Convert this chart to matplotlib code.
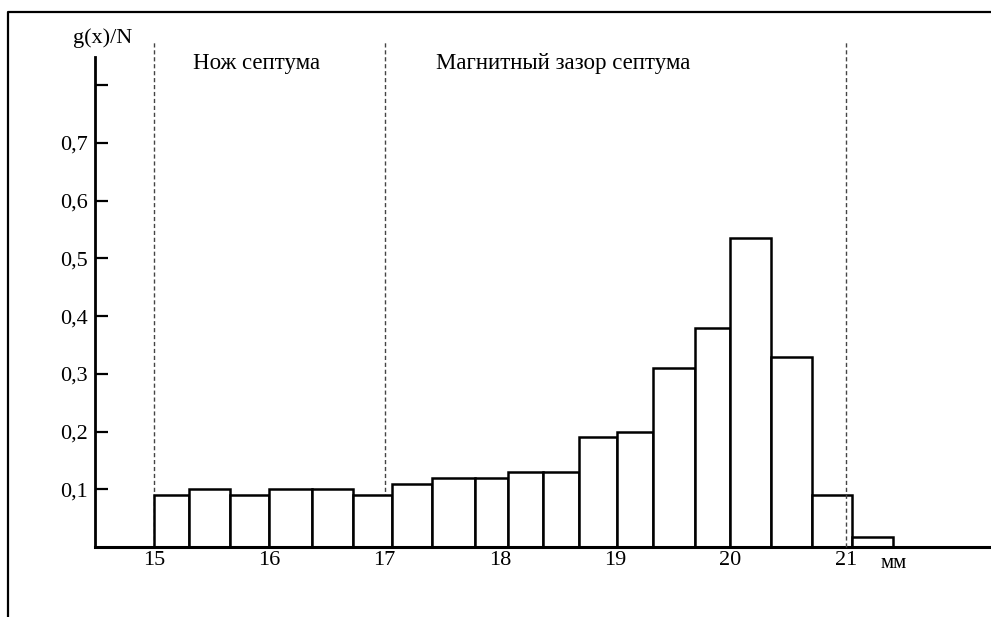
import matplotlib
matplotlib.use("Agg")
import matplotlib.pyplot as plt
from matplotlib.lines import Line2D

plt.rcParams['font.family'] = ['Liberation Serif', 'DejaVu Serif']

# bar edges (mm) and heights g(x)/N
bin_edges = [15.00, 15.30, 15.66, 16.00, 16.37, 16.73, 17.06, 17.41, 17.78, 18.07,
             18.37, 18.69, 19.02, 19.33, 19.69, 20.00, 20.35, 20.71, 21.05, 21.41]
heights = [0.09, 0.10, 0.09, 0.10, 0.10, 0.09, 0.11, 0.12, 0.12, 0.13,
           0.13, 0.19, 0.20, 0.31, 0.38, 0.535, 0.33, 0.09, 0.018]

y_ticks = [0.1, 0.2, 0.3, 0.4, 0.5, 0.6, 0.7, 0.8]
y_labels = ['0,1', '0,2', '0,3', '0,4', '0,5', '0,6', '0,7', '']
x_ticks = [15, 16, 17, 18, 19, 20, 21]
x_labels = ['15', '16', '17', '18', '19', '20', '21']

zone_lines = [15, 17, 21]
zone_names = ['Нож септума', 'Магнитный зазор септума']
zone_text_x = [15.34, 17.45]

W, H = 991, 617
fig = plt.figure(figsize=(W / 100, H / 100), dpi=100)
ax = fig.add_axes([95 / W, 1 - 547 / H, 896 / W, 490 / H])

lefts = bin_edges[:-1]
widths = [b - a for a, b in zip(bin_edges[:-1], bin_edges[1:])]
ax.bar(lefts, heights, width=widths, align='edge', color='white',
       edgecolor='black', linewidth=1.8, zorder=2)

ax.set_xlim(14.488, 22.26)
ax.set_ylim(0, 0.849)

# dashed zone boundaries
ax.vlines(zone_lines[:2], 0, 0.875, colors='#444444', linestyles=(0, (3, 2)),
          linewidth=1.0, clip_on=False, zorder=1)
ax.vlines(zone_lines[2:], 0, 0.875, colors='#444444', linestyles=(0, (3, 2)),
          linewidth=1.0, clip_on=False, zorder=3)

for name, xt in zip(zone_names, zone_text_x):
    ax.text(xt, 0.837, name, fontsize=16.5, ha='left', va='center', clip_on=False)

for s in ['top', 'right']:
    ax.spines[s].set_visible(False)
ax.spines['left'].set_linewidth(2.0)
ax.spines['bottom'].set_linewidth(2.2)

ax.set_yticks(y_ticks)
ax.set_yticklabels(y_labels, fontsize=16)
ax.tick_params(axis='y', direction='in', length=9.5, width=1.6, pad=5)
ax.set_xticks(x_ticks)
ax.set_xticklabels(x_labels, fontsize=16)
ax.tick_params(axis='x', length=0, pad=3)

ax.text(21.3, -0.033, 'мм', transform=ax.get_xaxis_transform(), fontsize=15,
        ha='left', va='center')
fig.text(103 / W, 1 - 38 / H, 'g(x)/N', fontsize=16, ha='center', va='center')

# outer frame (top and left edges)
fig.add_artist(Line2D([8 / W, 8 / W, 1], [0, 1 - 12 / H, 1 - 12 / H],
                      transform=fig.transFigure, color='black', linewidth=1.6))

fig.savefig('out.png', dpi=100)
